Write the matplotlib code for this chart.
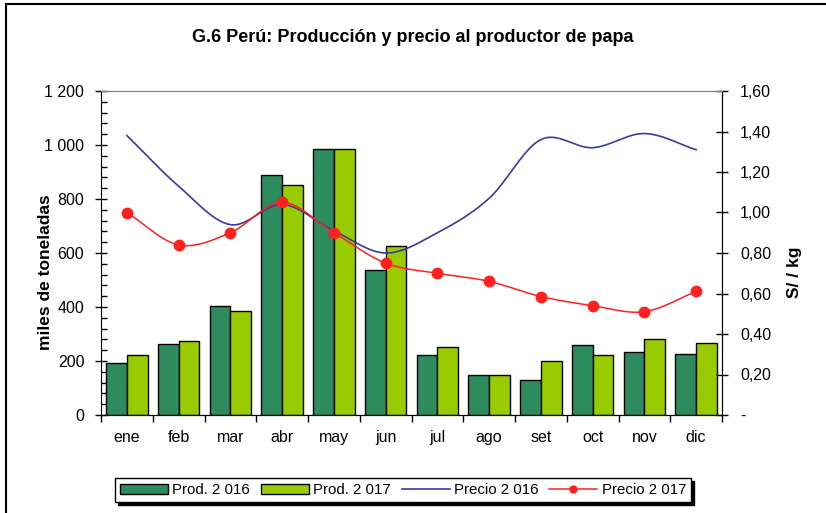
import numpy as np
import matplotlib
matplotlib.use("Agg")
from matplotlib import pyplot as plt
from matplotlib.ticker import MultipleLocator, FuncFormatter

#Data:
meses = ["ene", "feb", "mar", "abr", "may", "jun", "jul", "ago", "set", "oct", "nov", "dic"]
prod_2016 = [192, 262, 402, 888, 987, 538, 222, 150, 128, 261, 232, 227] #miles de toneladas
prod_2017 = [222, 275, 386, 853, 987, 625, 252, 150, 199, 222, 280, 268]
precio_2016 = [1.38, 1.13, 0.94, 1.04, 0.91, 0.80, 0.90, 1.07, 1.36, 1.32, 1.39, 1.31] #S/ por kg
precio_2017 = [1.00, 0.84, 0.90, 1.05, 0.90, 0.75, 0.70, 0.66, 0.585, 0.54, 0.51, 0.61]
leyenda = ["Prod. 2 016", "Prod. 2 017", "Precio 2 016", "Precio 2 017"]

#Excel-like smoothed line (Catmull-Rom through the points)
def suavizar(x, y, n=20):
    x = np.asarray(x, float); y = np.asarray(y, float)
    px = np.concatenate([[2*x[0]-x[1]], x, [2*x[-1]-x[-2]]])
    py = np.concatenate([[2*y[0]-y[1]], y, [2*y[-1]-y[-2]]])
    xs, ys = [], []
    t = np.linspace(0, 1, n, endpoint=False)
    for i in range(1, len(px)-2):
        for p, out in ((px, xs), (py, ys)):
            p0, p1, p2, p3 = p[i-1], p[i], p[i+1], p[i+2]
            out.extend(0.5*((2*p1) + (-p0+p2)*t + (2*p0-5*p1+4*p2-p3)*t**2 + (-p0+3*p1-3*p2+p3)*t**3))
    xs.append(x[-1]); ys.append(y[-1])
    return np.array(xs), np.array(ys)

plt.rcParams['font.family'] = ['Liberation Sans', 'DejaVu Sans']

fig = plt.figure(figsize=(8.26, 5.13), dpi=100)
ax = fig.add_axes([101/826, 1-415/513, 621/826, 324/513])
ax2 = ax.twinx()

x = np.arange(len(meses))
w = 0.4
b1 = ax.bar(x - w/2, prod_2016, w, color="#2e8b5e", edgecolor="black", linewidth=1.0, zorder=2)
b2 = ax.bar(x + w/2, prod_2017, w, color="#99cc00", edgecolor="black", linewidth=1.0, zorder=2)

sx, sy = suavizar(x, precio_2016)
l1, = ax2.plot(sx, sy, color="#3a3aa0", linewidth=1.2)
sx, sy = suavizar(x, precio_2017)
ax2.plot(sx, sy, color="#ff2020", linewidth=1.1)
ax2.plot(x, precio_2017, color="#ff2020", linestyle="none", marker="o", markersize=7.5)
l2 = plt.Line2D([], [], color="#ff2020", linewidth=1.1, marker="o", markersize=5)

ax.set_xlim(-0.5, 11.5)
ax.set_ylim(0, 1200)
ax2.set_ylim(0, 1.6)
ax.set_xticks(np.arange(-0.5, 12, 1))
ax.set_xticklabels([])
ax.set_xticks(x, minor=True)
ax.set_xticklabels(meses, minor=True)
ax.tick_params(axis="x", which="major", direction="out", length=5, width=1)
ax.tick_params(axis="x", which="minor", length=0, pad=11, labelsize=11.5)

ax.yaxis.set_major_locator(MultipleLocator(200))
ax.yaxis.set_minor_locator(MultipleLocator(40))
ax.yaxis.set_major_formatter(FuncFormatter(lambda v, p: f"{int(v):,}".replace(",", " ")))
ax.tick_params(axis="y", which="major", direction="inout", length=8, width=1, labelsize=11.5, pad=8)
ax.tick_params(axis="y", which="minor", direction="in", length=4, width=1)

ax2.yaxis.set_major_locator(MultipleLocator(0.2))
ax2.yaxis.set_major_formatter(FuncFormatter(lambda v, p: "-" if abs(v) < 1e-9 else f"{v:.2f}".replace(".", ",")))
ax2.tick_params(axis="y", direction="inout", length=8, width=1, labelsize=11.5, pad=9)

for a in (ax, ax2):
    a.spines["top"].set_color("#808080")
ax2.spines["left"].set_visible(False)

ax.set_ylabel("miles de toneladas", fontsize=12.5, fontweight="bold")
ax.yaxis.set_label_coords(-0.078, 0.44)
ax2.set_ylabel("S/ / kg", fontsize=12.5, fontweight="bold")
ax2.yaxis.set_label_coords(1.105, 0.44)

fig.text(0.5, 1-38/513, "G.6 Perú: Producción y precio al productor de papa",
         ha="center", va="center", fontsize=13, fontweight="bold")

leg = fig.legend([b1, b2, l1, l2], leyenda, loc="center", bbox_to_anchor=(403/826, 1-490/513),
                 ncol=4, frameon=True, fancybox=False, shadow={"color": "black", "alpha": 1}, edgecolor="black",
                 fontsize=10.8, handlelength=3.2, handleheight=0.7, handletextpad=0.3, columnspacing=0.7,
                 borderpad=0.35, borderaxespad=0)
leg.get_frame().set_linewidth(1)

#Figure border (top and left)
fig.add_artist(plt.Line2D([6/826, 1], [1-4/513, 1-4/513], color="black", linewidth=1.5))
fig.add_artist(plt.Line2D([6/826, 6/826], [0, 1-4/513], color="black", linewidth=1.5))

fig.savefig("out.png", dpi=100)
